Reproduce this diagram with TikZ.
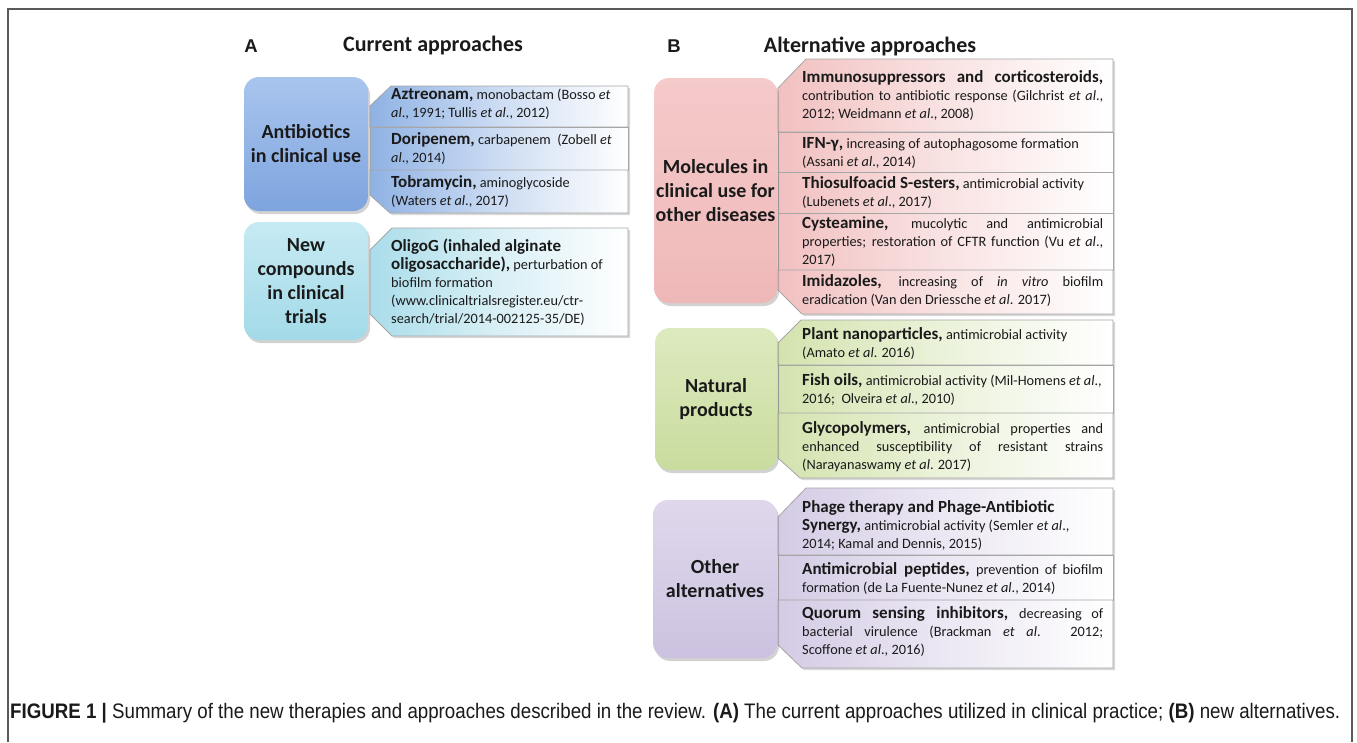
\documentclass[tikz,border=0pt]{standalone}
\usepackage{graphicx}
\usepackage{fontspec}
\setmainfont{Carlito}
\newfontfamily\arialf{Liberation Sans}
\usetikzlibrary{shadows}
\definecolor{txt}{HTML}{1A1A1A}
\definecolor{blueT}{HTML}{A9C5EE}
\definecolor{blueB}{HTML}{7EA4DE}
\definecolor{blueR}{HTML}{8FB2E4}
\definecolor{cyanT}{HTML}{C6EAF3}
\definecolor{cyanB}{HTML}{A3DAE8}
\definecolor{cyanR}{HTML}{AADDEA}
\definecolor{pinkT}{HTML}{F5CACA}
\definecolor{pinkB}{HTML}{EFB8B8}
\definecolor{pinkR}{HTML}{F2C0C0}
\definecolor{greenT}{HTML}{DDEABF}
\definecolor{greenB}{HTML}{C9DC9E}
\definecolor{greenR}{HTML}{D3E3AE}
\definecolor{purpT}{HTML}{DFD8EC}
\definecolor{purpB}{HTML}{CCC2E0}
\definecolor{purpR}{HTML}{D4CBE5}
\definecolor{framec}{HTML}{5A5A5A}
\definecolor{rowline}{HTML}{A6A6A6}
\newlength\rowwidth \setlength\rowwidth{301pt}
\newcommand\jl[1]{\makebox[\rowwidth][s]{#1}}
\newcommand\hd[1]{{\bfseries\fontsize{17}{18}\selectfont #1}}
\begin{document}
\begin{tikzpicture}[x=1pt,y=-1pt,
  grpbox/.style={rectangle, rounded corners=15pt, inner sep=0pt, align=center, text=txt,
    font=\bfseries\fontsize{20}{24}\selectfont,
    drop shadow={opacity=0.35, shadow xshift=2pt, shadow yshift=-3pt}},
  rowshape/.style={draw=rowline, line width=0.8pt,
    drop shadow={opacity=0.3, shadow xshift=2pt, shadow yshift=-2pt}},
  rowfill/.style={left color=#1, right color=white, middle color=#1!45!white},
  rowtext/.style={anchor=west, inner sep=0pt, align=left, text=txt,
    font=\fontsize{14.3}{18}\selectfont},
  numlbl/.style={text=txt, font=\arialf\bfseries\fontsize{18.5}{21}\selectfont},
  ttl/.style={text=txt, font=\bfseries\fontsize{22}{26}\selectfont}]
\useasboundingbox (0,0) rectangle (1357,742);
\fill[white] (0,0) rectangle (1357,742);
\draw[framec, line width=1.3pt] (8,742) -- (8,9) -- (1352,9) -- (1352,742);

% titles
\node[numlbl] (lA) at (251,46) {A};
\node[ttl] (tA) at (433,46) {Current approaches};
\node[numlbl] (lB) at (674,46) {B};
\node[ttl] (tB) at (870,46) {Alternative approaches};

% ---------- Panel A rows ----------
\path[rowshape, rowfill=blueR] (370,106) -- (391,86) -- (628,86) -- (628,127) -- (370,127) -- cycle;
\path[rowshape, rowfill=blueR] (370,127) rectangle (628,170);
\path[rowshape, rowfill=blueR] (370,170) -- (628,170) -- (628,213) -- (390,213) -- (370,195) -- cycle;
\path[rowshape, rowfill=cyanR] (370,250) -- (392,228) -- (628,228) -- (628,336) -- (392,336) -- (370,314) -- cycle;

\node[grpbox, top color=blueT, bottom color=blueB, minimum width=124pt, minimum height=134pt] (gblue) at (306,144) {Antibiotics\\in clinical use};
\node[grpbox, top color=cyanT, bottom color=cyanB, minimum width=124pt, minimum height=118pt] (gcyan) at (306,281) {New\\compounds\\in clinical\\trials};

\node[rowtext] (a1) at (391,104) {\hd{Aztreonam,} monobactam (Bosso \textit{et}\\\textit{al}., 1991; Tullis \textit{et al}., 2012)};
\node[rowtext] (a2) at (391,149) {\hd{Doripenem,} carbapenem\ \ (Zobell \textit{et}\\\textit{al}., 2014)};
\node[rowtext] (a3) at (391,192) {\hd{Tobramycin,} aminoglycoside\\(Waters \textit{et al}., 2017)};
\node[rowtext] (a4) at (391,282) {\hd{OligoG (inhaled alginate}\\\hd{oligosaccharide),} perturbation of\\biofilm formation\\(www.clinicaltrialsregister.eu/ctr-\\search/trial/2014-002125-35/DE)};

% ---------- Panel B rows ----------
\path[rowshape, rowfill=pinkR] (778,88) -- (806,59) -- (1113,59) -- (1113,132) -- (778,132) -- cycle;
\path[rowshape, rowfill=pinkR] (778,132) rectangle (1113,172);
\path[rowshape, rowfill=pinkR] (778,172) rectangle (1113,213);
\path[rowshape, rowfill=pinkR] (778,213) rectangle (1113,270);
\path[rowshape, rowfill=pinkR] (778,270) -- (1113,270) -- (1113,314) -- (802,314) -- (778,290) -- cycle;

\path[rowshape, rowfill=greenR] (778,343) -- (801,320) -- (1113,320) -- (1113,365) -- (778,365) -- cycle;
\path[rowshape, rowfill=greenR] (778,365) rectangle (1113,413);
\path[rowshape, rowfill=greenR] (778,413) -- (1113,413) -- (1113,478) -- (800,478) -- (778,458) -- cycle;

\path[rowshape, rowfill=purpR] (778,517) -- (806,488) -- (1113,488) -- (1113,555) -- (778,555) -- cycle;
\path[rowshape, rowfill=purpR] (778,555) rectangle (1113,600);
\path[rowshape, rowfill=purpR] (778,600) -- (1113,600) -- (1113,668) -- (802,668) -- (778,645) -- cycle;

\node[grpbox, top color=pinkT, bottom color=pinkB, minimum width=123pt, minimum height=225pt] (gpink) at (715.5,190.5) {Molecules in\\clinical use for\\other diseases};
\node[grpbox, top color=greenT, bottom color=greenB, minimum width=122pt, minimum height=142pt] (ggreen) at (716,399) {Natural\\products};
\node[grpbox, top color=purpT, bottom color=purpB, minimum width=124pt, minimum height=158pt] (gpurp) at (715,579) {Other\\alternatives};

\node[rowtext] (b1) at (802,96) {\jl{\hd{Immunosuppressors and corticosteroids,}}\\\jl{contribution to antibiotic response (Gilchrist \textit{et al}.,}\\2012; Weidmann \textit{et al}., 2008)};
\node[rowtext] (b2) at (802,153) {\hd{IFN-γ,} increasing of autophagosome formation\\(Assani \textit{et al}., 2014)};
\node[rowtext] (b3) at (802,193) {\hd{Thiosulfoacid S-esters,} antimicrobial activity\\(Lubenets \textit{et al}., 2017)};
\node[rowtext] (b4) at (802,242) {\jl{\hd{Cysteamine,} mucolytic and antimicrobial}\\\jl{properties; restoration of CFTR function (Vu \textit{et al}.,}\\2017)};
\node[rowtext] (b5) at (802,291) {\jl{\hd{Imidazoles,} increasing of \textit{in vitro} biofilm}\\eradication (Van den Driessche \textit{et al}. 2017)};

\node[rowtext] (c1) at (802,344) {\hd{Plant nanoparticles,} antimicrobial activity\\(Amato \textit{et al}. 2016)};
\node[rowtext] (c2) at (802,390) {\hd{Fish oils,} antimicrobial activity (Mil-Homens \textit{et al}.,\\2016;\ \ Olveira \textit{et al}., 2010)};
\node[rowtext] (c3) at (802,447) {\jl{\hd{Glycopolymers,} antimicrobial properties and}\\\jl{enhanced susceptibility of resistant strains}\\(Narayanaswamy \textit{et al}. 2017)};

\node[rowtext] (d1) at (802,526) {\hd{Phage therapy and Phage-Antibiotic}\\\hd{Synergy,} antimicrobial activity (Semler \textit{et al}.,\\2014; Kamal and Dennis, 2015)};
\node[rowtext] (d2) at (802,579) {\jl{\hd{Antimicrobial peptides,} prevention of biofilm}\\formation (de La Fuente-Nunez \textit{et al}., 2014)};
\node[rowtext] (d3) at (802,632) {\jl{\hd{Quorum sensing inhibitors,} decreasing of}\\\jl{bacterial virulence (Brackman \textit{et al}. 2012;}\\Scoffone \textit{et al}., 2016)};

% caption
\node[anchor=west, inner sep=0pt, text=txt] (cap) at (10,713) {\resizebox{1330pt}{\height}{\arialf\fontsize{21}{24}\selectfont\textbf{FIGURE 1 |} Summary of the new therapies and approaches described in the review. \textbf{(A)} The current approaches utilized in clinical practice; \textbf{(B)} new alternatives.}};
\end{tikzpicture}
\end{document}
